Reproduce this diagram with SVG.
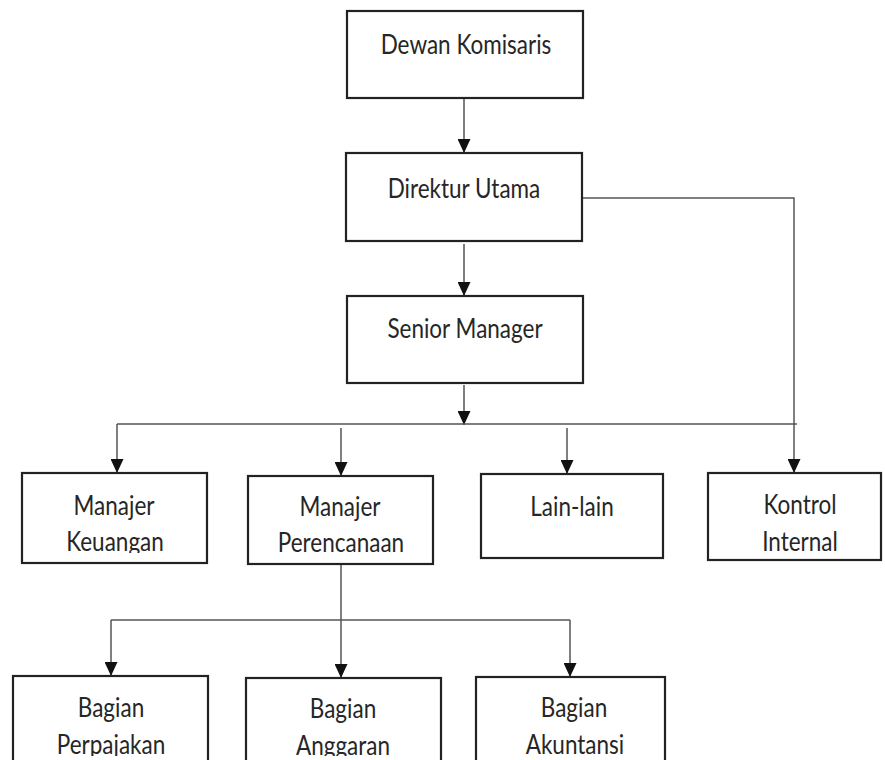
<svg xmlns="http://www.w3.org/2000/svg" width="885" height="760" viewBox="0 0 885 760">
<style>
.box{fill:#fff;stroke:#222;stroke-width:2.2}
.t{font-family:Lato,"Liberation Sans",sans-serif;font-size:22.5px;fill:#262626;text-anchor:middle}
.c{fill:none;stroke:#555;stroke-width:1.5}
</style>
<defs>
<marker id="arr" markerUnits="userSpaceOnUse" markerWidth="14" markerHeight="13" refX="14" refY="6.5" orient="auto">
<path d="M0,0 L14,6.5 L0,13 z" fill="#111"/>
</marker>
<clipPath id="clip1"><rect x="0" y="0" width="885" height="553"/></clipPath>
<clipPath id="clip2"><rect x="0" y="0" width="885" height="756"/></clipPath>
</defs>
<rect width="885" height="760" fill="#fff"/>
<g id="connectors">
<path class="c" d="M464,99 V153" marker-end="url(#arr)"/>
<path class="c" d="M464,244 V296" marker-end="url(#arr)"/>
<path class="c" d="M464,385 V425" marker-end="url(#arr)"/>
<path class="c" d="M117,424 H797"/>
<path class="c" d="M117,424 V473" marker-end="url(#arr)"/>
<path class="c" d="M341,428 V476" marker-end="url(#arr)"/>
<path class="c" d="M567,428 V474" marker-end="url(#arr)"/>
<path class="c" d="M583,198 H794 V473" marker-end="url(#arr)"/>
<path class="c" d="M341,565 V678" marker-end="url(#arr)"/>
<path class="c" d="M111,620 H570"/>
<path class="c" d="M111,620 V676" marker-end="url(#arr)"/>
<path class="c" d="M570,620 V677" marker-end="url(#arr)"/>
</g>
<g id="dewan-komisaris">
<rect class="box" x="347" y="11" width="236" height="87"/>
<text class="t" transform="translate(466,54) scale(1,1.2)">Dewan Komisaris</text>
</g>
<g id="direktur-utama">
<rect class="box" x="346" y="153" width="236" height="88"/>
<text class="t" transform="translate(464,198) scale(1,1.2)">Direktur Utama</text>
</g>
<g id="senior-manager">
<rect class="box" x="347" y="296" width="236" height="87"/>
<text class="t" transform="translate(465,338) scale(1,1.2)">Senior Manager</text>
</g>
<g id="manajer-keuangan">
<rect class="box" x="22" y="473" width="185" height="90"/>
<g clip-path="url(#clip1)">
<text class="t" transform="translate(114,515) scale(1,1.2)">Manajer</text>
<text class="t" transform="translate(115,551) scale(1,1.2)">Keuangan</text>
</g>
</g>
<g id="manajer-perencanaan">
<rect class="box" x="248" y="476" width="185" height="88"/>
<g clip-path="url(#clip1)">
<text class="t" transform="translate(340,516) scale(1,1.2)">Manajer</text>
<text class="t" transform="translate(341,552) scale(1,1.2)">Perencanaan</text>
</g>
</g>
<g id="lain-lain">
<rect class="box" x="481" y="474" width="182" height="84"/>
<text class="t" transform="translate(572,516) scale(1,1.2)">Lain-lain</text>
</g>
<g id="kontrol-internal">
<rect class="box" x="708" y="473" width="173" height="87"/>
<g clip-path="url(#clip1)">
<text class="t" transform="translate(800,514) scale(1,1.2)">Kontrol</text>
<text class="t" transform="translate(800,551) scale(1,1.2)">Internal</text>
</g>
</g>
<g id="bagian-perpajakan">
<rect class="box" x="13" y="676" width="195" height="110"/>
<g clip-path="url(#clip2)">
<text class="t" transform="translate(111,717) scale(1,1.2)">Bagian</text>
<text class="t" transform="translate(111,754) scale(1,1.2)">Perpajakan</text>
</g>
</g>
<g id="bagian-anggaran">
<rect class="box" x="246" y="678" width="195" height="110"/>
<g clip-path="url(#clip2)">
<text class="t" transform="translate(343,718) scale(1,1.2)">Bagian</text>
<text class="t" transform="translate(343,755) scale(1,1.2)">Anggaran</text>
</g>
</g>
<g id="bagian-akuntansi">
<rect class="box" x="476" y="677" width="189" height="110"/>
<g clip-path="url(#clip2)">
<text class="t" transform="translate(574,717) scale(1,1.2)">Bagian</text>
<text class="t" transform="translate(575,754) scale(1,1.2)">Akuntansi</text>
</g>
</g>
</svg>
